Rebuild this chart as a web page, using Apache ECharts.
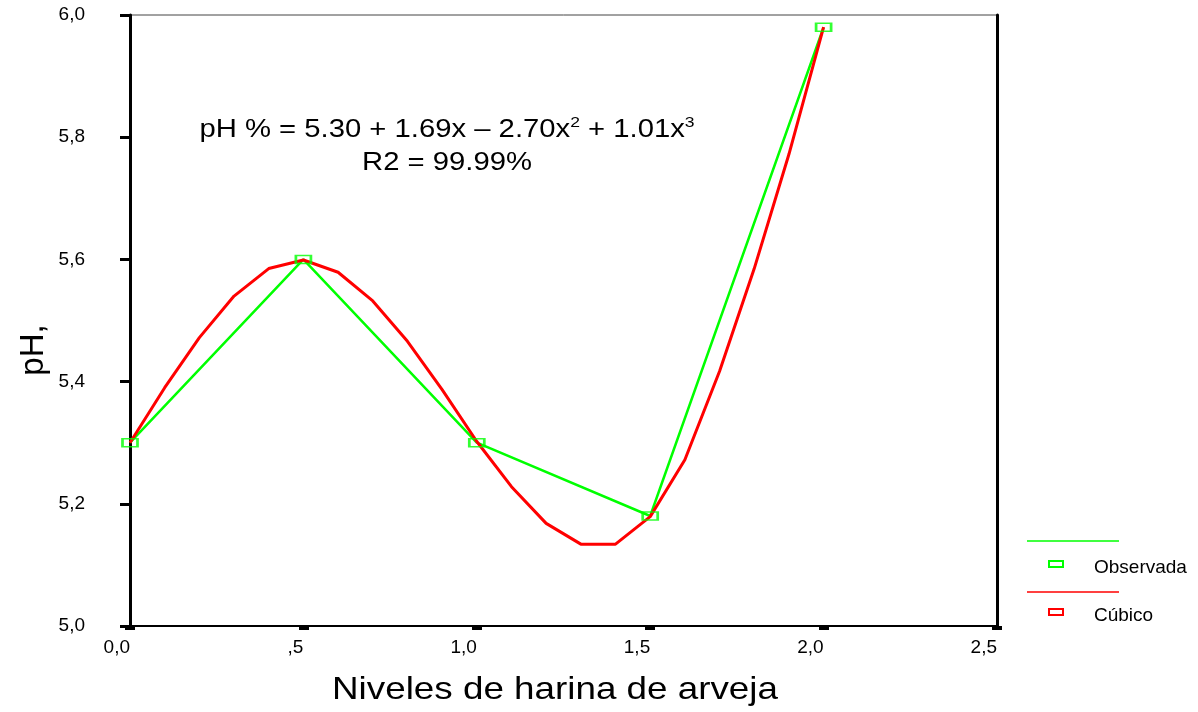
<!DOCTYPE html>
<html>
<head>
<meta charset="utf-8">
<title>pH</title>
<script src="https://cdn.jsdelivr.net/npm/echarts@6/dist/echarts.min.js"></script>
<style>
  html, body { margin: 0; padding: 0; background: #fff; }
  #chart { width: 1198px; height: 712px; }
</style>
</head>
<body>
<div id="chart"></div>
<script>
// observed values
const obsX = [0, 0.5, 1.0, 1.5, 2.0];
const obsY = [5.30, 5.60, 5.30, 5.18, 5.98];

// cubic fit, every 0.1
const fitX = [0, 0.1, 0.2, 0.3, 0.4, 0.5, 0.6, 0.7, 0.8, 0.9, 1.0,
  1.1, 1.2, 1.3, 1.4, 1.5, 1.6, 1.7, 1.8, 1.9, 2.0];
const fitY = [5.300, 5.390, 5.472, 5.540, 5.585, 5.599, 5.579, 5.532, 5.466, 5.387, 5.302,
  5.228, 5.168, 5.134, 5.134, 5.179, 5.272, 5.417, 5.585, 5.772, 5.980];

const xTickLabels = ['0,0', ',5', '1,0', '1,5', '2,0', '2,5'];
const yTickLabels = ['5,0', '5,2', '5,4', '5,6', '5,8', '6,0'];

const FONT = 'Liberation Sans, Arial, sans-serif';
const GREEN = '#00ff00';
const RED = '#ff0000';

const pairs = (xs, ys) => xs.map((x, i) => [x, ys[i]]);

const chart = echarts.init(document.getElementById('chart'));

chart.setOption({
  animation: false,
  backgroundColor: '#fff',
  grid: {
    left: 130, top: 15, right: 201, bottom: 86,
    show: true, borderColor: '#444', borderWidth: 1,
  },
  xAxis: {
    type: 'value', min: 0, max: 2.5, interval: 0.5,
    splitLine: { show: false },
    axisLine: { show: true, onZero: false, lineStyle: { color: '#000', width: 2 } },
    axisTick: { show: true, length: 4, lineStyle: { color: '#000', width: 10 } },
    axisLabel: {
      margin: 12, align: 'right', color: '#000', fontSize: 19, fontFamily: FONT,
      formatter: (v) => xTickLabels[Math.round(v / 0.5)],
    },
  },
  yAxis: [{
    type: 'value', min: 5, max: 6, interval: 0.2,
    splitLine: { show: false },
    axisLine: { show: true, lineStyle: { color: '#000', width: 3 } },
    axisTick: { show: true, length: 10, lineStyle: { color: '#000', width: 3 } },
    axisLabel: {
      margin: 45, color: '#000', fontSize: 19, fontFamily: FONT,
      formatter: (v) => yTickLabels[Math.round((v - 5) / 0.2)],
    },
  }, {
    type: 'value', min: 5, max: 6, position: 'right',
    splitLine: { show: false },
    axisLine: { show: true, lineStyle: { color: '#000', width: 3 } },
    axisTick: { show: false },
    axisLabel: { show: false },
  }],
  series: [
    {
      name: 'Observada', type: 'line', data: pairs(obsX, obsY),
      showSymbol: false, symbol: 'none',
      lineStyle: { color: GREEN, width: 2.5 }, z: 2,
    },
    {
      name: 'Cúbico', type: 'line', data: pairs(fitX, fitY),
      showSymbol: false, symbol: 'none',
      lineStyle: { color: RED, width: 3 }, z: 3,
    },
    {
      type: 'scatter', data: pairs(obsX, obsY),
      symbol: 'rect', symbolSize: [15, 8],
      itemStyle: { color: 'rgba(0,0,0,0)', borderColor: GREEN, borderWidth: 2 },
      z: 5,
    },
  ],
  graphic: [
    {
      type: 'text', x: 447, y: 130, scaleX: 1.17,
      style: {
        text: '{m|pH % = 5.30 + 1.69x – 2.70x}{s|2}{m| + 1.01x}{s|3}',
        align: 'center', verticalAlign: 'middle',
        rich: {
          m: { fontSize: 25, fontFamily: FONT, fill: '#000', lineHeight: 30 },
          s: { fontSize: 15, fontFamily: FONT, fill: '#000', lineHeight: 30, verticalAlign: 'top' },
        },
      },
    },
    {
      type: 'text', x: 447, y: 163, scaleX: 1.17,
      style: {
        text: 'R2 = 99.99%', fontSize: 25, fontFamily: FONT, fill: '#000',
        align: 'center', verticalAlign: 'middle',
      },
    },
    {
      type: 'text', x: 555, y: 690, scaleX: 1.15,
      style: {
        text: 'Niveles de harina de arveja', fontSize: 32, fontFamily: FONT, fill: '#000',
        align: 'center', verticalAlign: 'middle',
      },
    },
    {
      type: 'text', x: 34, y: 350, rotation: Math.PI / 2,
      style: {
        text: 'pH,', fontSize: 33, fontFamily: FONT, fill: '#000',
        align: 'center', verticalAlign: 'middle',
      },
    },
    // legend
    { type: 'line', shape: { x1: 1027, y1: 541, x2: 1119, y2: 541 }, style: { stroke: GREEN, lineWidth: 1.5 } },
    { type: 'rect', shape: { x: 1049, y: 561, width: 14, height: 6 }, style: { fill: 'none', stroke: GREEN, lineWidth: 2 } },
    { type: 'text', x: 1094, y: 568, style: { text: 'Observada', fontSize: 19, fontFamily: FONT, fill: '#000', verticalAlign: 'middle' } },
    { type: 'line', shape: { x1: 1027, y1: 592, x2: 1119, y2: 592 }, style: { stroke: RED, lineWidth: 1.5 } },
    { type: 'rect', shape: { x: 1049, y: 609, width: 14, height: 6 }, style: { fill: 'none', stroke: RED, lineWidth: 2 } },
    { type: 'text', x: 1094, y: 616, style: { text: 'Cúbico', fontSize: 19, fontFamily: FONT, fill: '#000', verticalAlign: 'middle' } },
  ],
});
</script>
</body>
</html>
